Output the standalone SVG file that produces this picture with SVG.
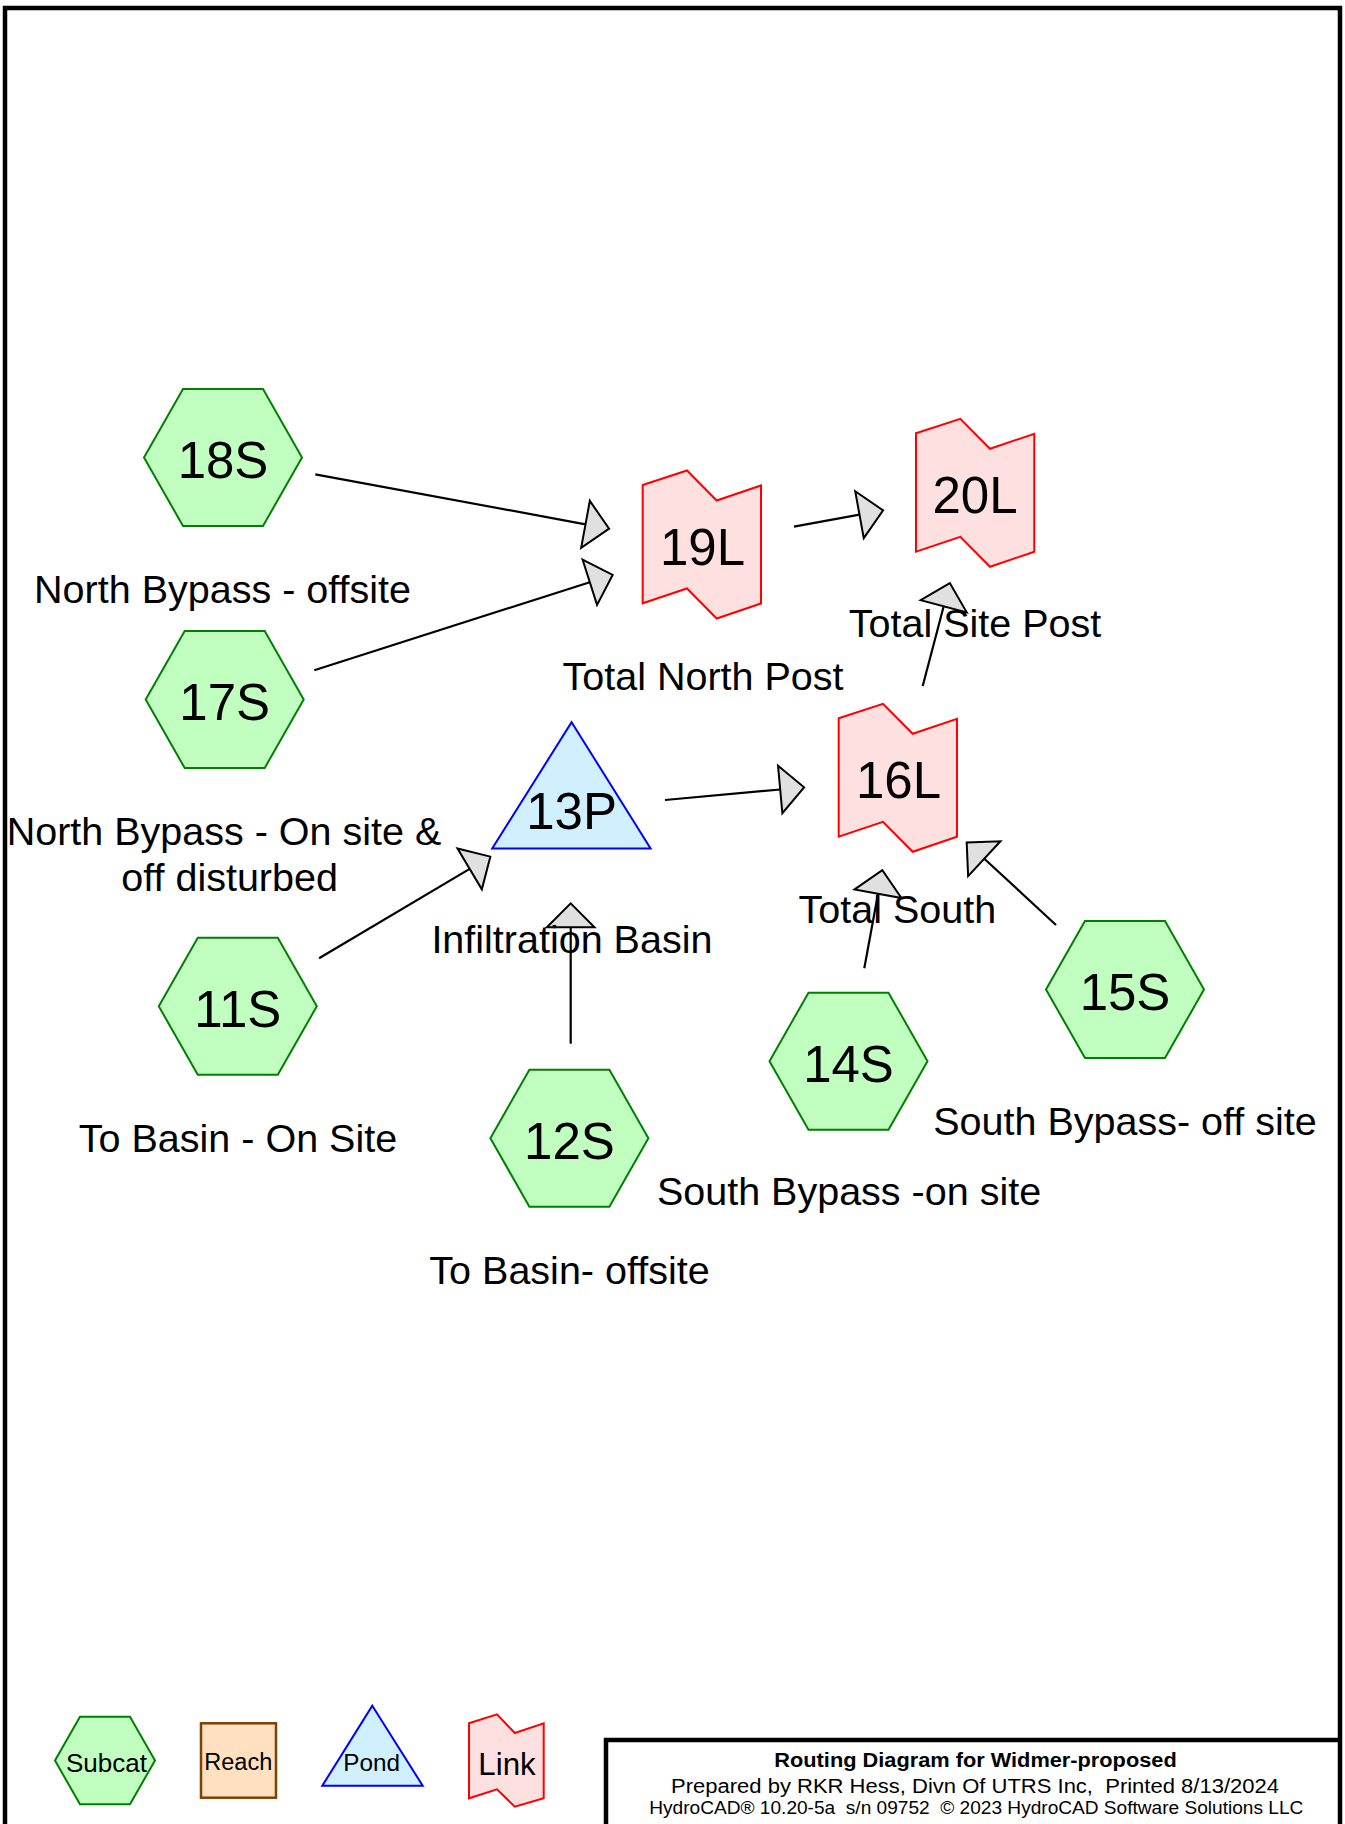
<svg xmlns="http://www.w3.org/2000/svg" xmlns:xlink="http://www.w3.org/1999/xlink" width="1345" height="1824" viewBox="0 0 1345 1824">
  <style>
    text { font-family: "Liberation Sans", Arial, sans-serif; fill: #000; }
    .id { font-size: 51px; text-anchor: middle; }
    .lbl { font-size: 39.5px; text-anchor: middle; }
    .subcat { fill: #c0ffc0; stroke: #008000; stroke-width: 2; }
    .link { fill: #ffe0e0; stroke: #ff0000; stroke-width: 2; }
    .pond { fill: #d0f0ff; stroke: #0000ff; stroke-width: 2; }
    .reach { fill: #ffe0c0; stroke: #804000; stroke-width: 2.5; }
    .conn line { stroke: #000; stroke-width: 2.2; marker-end: url(#head); }
    .frame { fill: none; stroke: #000; stroke-width: 4.5; }
  </style>
  <defs>
    <polygon id="hex" points="-79,0 -40,-68.5 40,-68.5 79,0 40,68.5 -40,68.5"/>
    <polygon id="lnk" points="0,0 44.3,-14.5 74,15.5 118.3,0.5 118.3,118.5 74,133.5 44.3,103.5 0,118.3"/>
    <marker id="head" markerUnits="userSpaceOnUse" viewBox="-3 -27 30 54" markerWidth="30" markerHeight="54" refX="0" refY="0" orient="auto">
      <path d="M0,-23.8 L24,0 L0,23.8 Z" fill="#e0e0e0" stroke="#000" stroke-width="2"/>
    </marker>
  </defs>

  <rect width="1345" height="1824" fill="#fff"/>
  <!-- page frame and title block -->
  <path class="frame" d="M5,1824 V8 H1340 V1824"/>
  <path class="frame" d="M606,1824 V1740 H1340"/>

  <!-- connectors -->
  <g id="connectors" class="conn">
    <line x1="315.3" y1="474.3" x2="585.5" y2="524.3"/>
    <line x1="314.3" y1="670.3" x2="589.8" y2="582.2"/>
    <line x1="794" y1="526.7" x2="859.5" y2="514.7"/>
    <line x1="922.7" y1="686" x2="943.7" y2="606.3"/>
    <line x1="665" y1="800" x2="780.2" y2="789.5"/>
    <line x1="319.1" y1="958.3" x2="469.7" y2="868.9"/>
    <line x1="570.7" y1="1043.7" x2="570.7" y2="927.3"/>
    <line x1="864.3" y1="968.3" x2="878" y2="893.7"/>
    <line x1="1056" y1="925" x2="984.3" y2="858.7"/>
  </g>

  <!-- subcatchments -->
  <g id="n18S">
    <use xlink:href="#hex" href="#hex" class="subcat" transform="translate(223,457.5)"/>
    <text class="id" x="223" y="478">18S</text>
    <text class="lbl" x="222.5" y="603">North Bypass - offsite</text>
  </g>
  <g id="n17S">
    <use xlink:href="#hex" href="#hex" class="subcat" transform="translate(224.7,699.5)"/>
    <text class="id" x="224.7" y="720">17S</text>
    <text class="lbl" x="224" y="845.4">North Bypass - On site &amp;</text>
    <text class="lbl" x="229.6" y="891.4">off disturbed</text>
  </g>
  <g id="n11S">
    <use xlink:href="#hex" href="#hex" class="subcat" transform="translate(237.8,1006.3)"/>
    <text class="id" x="237.8" y="1027.2">11S</text>
    <text class="lbl" x="238" y="1151.6">To Basin - On Site</text>
  </g>
  <g id="n12S">
    <use xlink:href="#hex" href="#hex" class="subcat" transform="translate(569.4,1138.2)"/>
    <text class="id" x="569.4" y="1158.7">12S</text>
    <text class="lbl" x="569.5" y="1283.6">To Basin- offsite</text>
  </g>
  <g id="n14S">
    <use xlink:href="#hex" href="#hex" class="subcat" transform="translate(848.5,1061.2)"/>
    <text class="id" x="848.5" y="1081.7">14S</text>
    <text class="lbl" x="849" y="1205">South Bypass -on site</text>
  </g>
  <g id="n15S">
    <use xlink:href="#hex" href="#hex" class="subcat" transform="translate(1125,989.5)"/>
    <text class="id" x="1125" y="1010">15S</text>
    <text class="lbl" x="1125" y="1135">South Bypass- off site</text>
  </g>

  <!-- pond -->
  <g id="n13P">
    <polygon class="pond" points="571.6,722.2 650.6,848.5 492.2,848.5"/>
    <text class="id" x="571.6" y="829.4">13P</text>
    <text class="lbl" x="571.9" y="953.4">Infiltration Basin</text>
  </g>

  <!-- links -->
  <g id="n19L">
    <use xlink:href="#lnk" href="#lnk" class="link" transform="translate(642.7,485)"/>
    <text class="id" x="702.5" y="565">19L</text>
    <text class="lbl" x="703" y="690">Total North Post</text>
  </g>
  <g id="n20L">
    <use xlink:href="#lnk" href="#lnk" class="link" transform="translate(916,433.3)"/>
    <text class="id" x="975" y="512.7">20L</text>
    <text class="lbl" x="975" y="637.3">Total Site Post</text>
  </g>
  <g id="n16L">
    <use xlink:href="#lnk" href="#lnk" class="link" transform="translate(838.7,718.3)"/>
    <text class="id" x="898.5" y="798.3">16L</text>
    <text class="lbl" x="897.3" y="923.3">Total South</text>
  </g>

  <!-- legend -->
  <g id="legend">
    <polygon class="subcat" points="55,1760.5 80,1716.7 130,1716.7 155,1760.5 130,1804.3 80,1804.3"/>
    <text x="106.5" y="1771.7" font-size="26" text-anchor="middle">Subcat</text>
    <rect class="reach" x="201" y="1723.3" width="75" height="74.4"/>
    <text x="238.3" y="1770" font-size="23.5" text-anchor="middle">Reach</text>
    <polygon class="pond" points="372.3,1705.7 422.7,1785.7 322.3,1785.7"/>
    <text x="371.7" y="1771" font-size="24.3" text-anchor="middle">Pond</text>
    <polygon class="link" points="469,1723.3 497,1714.3 514.8,1733 543.7,1723.3 543.7,1798.3 514.8,1806.7 497,1789.3 469,1798.3"/>
    <text x="507" y="1775" font-size="31.3" text-anchor="middle">Link</text>
  </g>

  <!-- title block -->
  <g id="title">
    <text x="774.3" y="1767" font-size="20" font-weight="bold" textLength="402.4" lengthAdjust="spacingAndGlyphs">Routing Diagram for Widmer-proposed</text>
    <text x="671" y="1793" font-size="20" textLength="608" lengthAdjust="spacingAndGlyphs" xml:space="preserve">Prepared by RKR Hess, Divn Of UTRS Inc,  Printed 8/13/2024</text>
    <text x="649.3" y="1814.3" font-size="17.5" textLength="654" lengthAdjust="spacingAndGlyphs" xml:space="preserve">HydroCAD® 10.20-5a  s/n 09752  © 2023 HydroCAD Software Solutions LLC</text>
  </g>
</svg>
